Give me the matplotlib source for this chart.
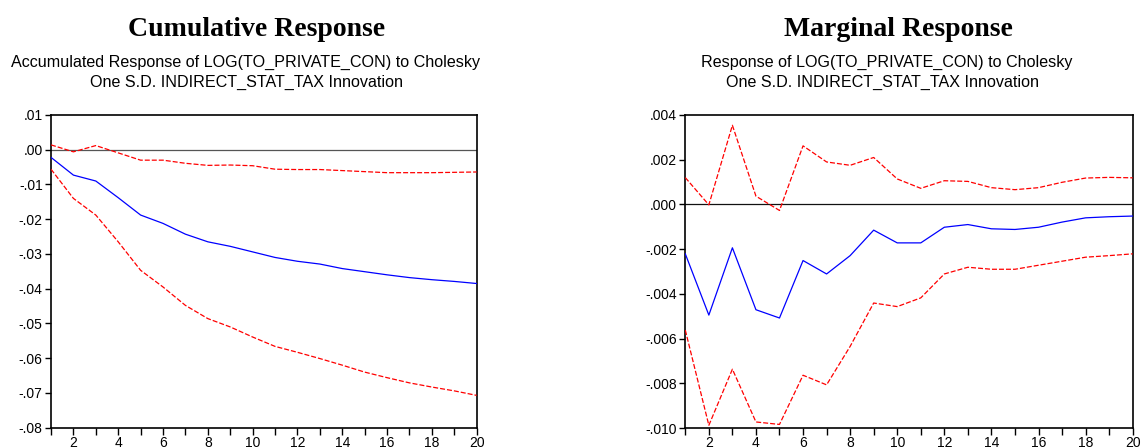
import matplotlib
matplotlib.use('Agg')
import matplotlib.pyplot as plt
from matplotlib.ticker import FuncFormatter, MultipleLocator

plt.rcParams['font.family'] = 'Liberation Sans'

periods = list(range(1, 21))

# Cumulative (accumulated) response
cum_mid = [-0.0022, -0.0073, -0.0090, -0.0138, -0.0188, -0.0212, -0.0243, -0.0265,
           -0.0278, -0.0294, -0.0310, -0.0321, -0.0329, -0.0342, -0.0351, -0.0360,
           -0.0368, -0.0374, -0.0379, -0.0385]
cum_upper = [0.0014, -0.0006, 0.0012, -0.0009, -0.0030, -0.0030, -0.0039, -0.0045,
             -0.0044, -0.0046, -0.0056, -0.0057, -0.0057, -0.0060, -0.0063, -0.0066,
             -0.0066, -0.0066, -0.0065, -0.0064]
cum_lower = [-0.0056, -0.0140, -0.0188, -0.0265, -0.0347, -0.0395, -0.0448, -0.0486,
             -0.0510, -0.0539, -0.0566, -0.0583, -0.0601, -0.0620, -0.0640, -0.0656,
             -0.0671, -0.0683, -0.0694, -0.0707]

# Marginal response
mar_mid = [-0.00221, -0.00495, -0.00194, -0.00471, -0.00508, -0.00251, -0.00311, -0.00229,
           -0.00115, -0.00172, -0.00172, -0.00102, -0.00090, -0.00109, -0.00112, -0.00102,
           -0.00079, -0.00060, -0.00055, -0.00052]
mar_upper = [0.00120, -0.00002, 0.00354, 0.00037, -0.00027, 0.00262, 0.00190, 0.00175,
             0.00210, 0.00114, 0.00072, 0.00106, 0.00103, 0.00075, 0.00066, 0.00075,
             0.00099, 0.00118, 0.00121, 0.00119]
mar_lower = [-0.00562, -0.00988, -0.00737, -0.00973, -0.00984, -0.00764, -0.00807, -0.00635,
             -0.00441, -0.00457, -0.00418, -0.00311, -0.00281, -0.00290, -0.00290, -0.00272,
             -0.00254, -0.00236, -0.00229, -0.00221]

W, H = 1143, 447
fig = plt.figure(figsize=(W / 100, H / 100), dpi=100)

ax1 = fig.add_axes([51 / W, 1 - 427.7 / H, 425.7 / W, 312.7 / H])
ax2 = fig.add_axes([685.3 / W, 1 - 428 / H, 447.4 / W, 313 / H])

DASH = (0, (4, 1.6))


def fmt(decimals):
    def f(v, pos):
        s = f'{v:.{decimals}f}'
        if s.startswith('-0'):
            s = '-' + s[2:]
        elif s.startswith('0'):
            s = s[1:]
        return s
    return FuncFormatter(f)


def style(ax, ylim, step, decimals, zcolor):
    ax.axhline(0, color=zcolor, linewidth=0.9, zorder=1)
    ax.set_xlim(1, 20)
    ax.set_ylim(*ylim)
    ax.xaxis.set_major_locator(MultipleLocator(2))
    ax.xaxis.set_minor_locator(MultipleLocator(1))
    ax.yaxis.set_major_locator(MultipleLocator(step))
    ax.yaxis.set_major_formatter(fmt(decimals))
    ax.tick_params(axis='both', which='both', direction='out', labelsize=10,
                   width=1.0, color='black')
    ax.tick_params(axis='y', length=4, pad=2)
    ax.tick_params(axis='x', which='both', length=5, pad=1)
    for sp in ax.spines.values():
        sp.set_linewidth(1.2)


ax1.plot(periods, cum_mid, color='#0000ff', linewidth=0.9, zorder=3)
ax1.plot(periods, cum_upper, color='#ff0000', linewidth=0.9, linestyle=DASH, zorder=3)
ax1.plot(periods, cum_lower, color='#ff0000', linewidth=0.9, linestyle=DASH, zorder=3)
style(ax1, (-0.08, 0.01), 0.01, 2, '#555555')

ax2.plot(periods, mar_mid, color='#0000ff', linewidth=0.9, zorder=3)
ax2.plot(periods, mar_upper, color='#ff0000', linewidth=0.9, linestyle=DASH, zorder=3)
ax2.plot(periods, mar_lower, color='#ff0000', linewidth=0.9, linestyle=DASH, zorder=3)
style(ax2, (-0.010, 0.004), 0.002, 3, '#111111')

# Titles
serif = ['Liberation Serif', 'DejaVu Serif']
fig.text(257 / W, 1 - 36 / H, 'Cumulative Response', family=serif, fontweight='bold',
         fontsize=20, ha='center', va='baseline')
fig.text(898 / W, 1 - 36 / H, 'Marginal Response', family=serif, fontweight='bold',
         fontsize=20, ha='center', va='baseline')

SUB = 11.6
fig.text(246 / W, 1 - 67 / H, 'Accumulated Response of LOG(TO_PRIVATE_CON) to Cholesky',
         fontsize=SUB, ha='center', va='baseline')
fig.text(247 / W, 1 - 87 / H, 'One S.D. INDIRECT_STAT_TAX Innovation',
         fontsize=SUB, ha='center', va='baseline')
fig.text(887 / W, 1 - 67 / H, 'Response of LOG(TO_PRIVATE_CON) to Cholesky',
         fontsize=SUB, ha='center', va='baseline')
fig.text(883 / W, 1 - 87 / H, 'One S.D. INDIRECT_STAT_TAX Innovation',
         fontsize=SUB, ha='center', va='baseline')

fig.savefig('out.png', dpi=100)
